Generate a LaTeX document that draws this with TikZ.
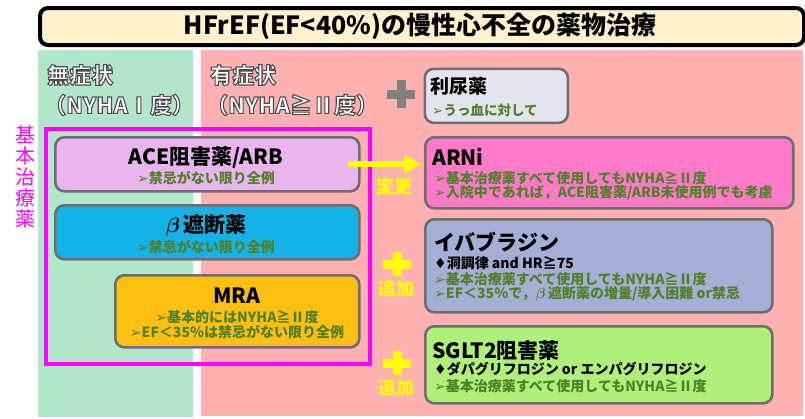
\documentclass[tikz,border=0pt]{standalone}
\usepackage{fontspec}
\usepackage{bm}
\setmainfont{Noto Sans CJK JP}
\newfontfamily\dvfont{DejaVu Sans}
\usetikzlibrary{arrows.meta}
\definecolor{titlefill}{RGB}{255,242,205}
\definecolor{panelgreen}{RGB}{178,230,203}
\definecolor{panelpink}{RGB}{255,176,176}
\definecolor{boxgray}{RGB}{110,110,110}
\definecolor{diufill}{RGB}{228,228,238}
\definecolor{acefill}{RGB}{234,180,238}
\definecolor{betafill}{RGB}{20,178,230}
\definecolor{mrafill}{RGB}{252,191,18}
\definecolor{arnifill}{RGB}{255,122,200}
\definecolor{ivafill}{RGB}{165,174,213}
\definecolor{sgltfill}{RGB}{174,240,122}
\definecolor{subgreen}{RGB}{80,128,40}
\definecolor{plusgray}{RGB}{128,128,128}
\definecolor{yel}{RGB}{255,255,0}
\definecolor{magentaline}{RGB}{255,0,255}
\newcommand\fbig{\fontsize{21}{24}\selectfont\bfseries}
\newcommand\fsubtxt{\fontsize{14}{16}\selectfont\bfseries}
\newcommand\arrowmark{{\dvfont ➢}}
\newcommand\diamondmark{{\dvfont ♦}}
\newcommand\outl[1]{\textcolor{white}{\special{pdf:literal direct 0.3 G 1.1 w 2 Tr}#1\special{pdf:literal direct 0 Tr}}}
\tikzset{
  x=1pt, y=-1pt,
  drugbox/.style={draw=boxgray, line width=2.6pt, rounded corners=9pt, anchor=north west, inner sep=0pt},
  bigtxt/.style={font=\fbig, text=black, inner sep=0pt},
  subtxt/.style={font=\fsubtxt, text=subgreen, inner sep=0pt},
  blacksub/.style={font=\fsubtxt, text=black, inner sep=0pt},
  headtxt/.style={font=\fontsize{22}{24}\selectfont\bfseries, inner sep=0pt, anchor=west},
  yeltxt/.style={font=\fontsize{18}{20}\selectfont\bfseries, text=yel, inner sep=0pt},
  plusline/.style={line width=9pt},
}
\begin{document}
\begin{tikzpicture}
\useasboundingbox (0,0) rectangle (805,418);
\fill[white] (0,0) rectangle (805,418);
% panels
\fill[panelgreen] (38,50) rectangle (193,417);
\fill[panelpink] (201,50) rectangle (803,416);
% title
\node[draw=black, line width=4pt, rounded corners=8pt, fill=titlefill, anchor=north west,
      minimum width=764pt, minimum height=37pt, inner sep=0pt] (titlebox) at (38,6) {};
\node[font=\fontsize{25}{28}\selectfont\bfseries, inner sep=0pt] (title) at (420,26) {HFrEF(EF<40\%)の慢性心不全の薬物治療};
% panel headings
\node[headtxt] (asym) at (47,75) {\outl{無症状}};
\node[headtxt] (asymn) at (44,105) {\outl{（NYHAⅠ度）}};
\node[headtxt] (sym) at (210,75) {\outl{有症状}};
\node[headtxt] (symn) at (206,105) {\outl{（NYHA≧Ⅱ度）}};
% gray plus
\coordinate (gplus) at (401,94);
\draw[plusgray, plusline] ([xshift=-14pt]gplus) -- ([xshift=14pt]gplus);
\draw[plusgray, plusline] ([yshift=-14pt]gplus) -- ([yshift=14pt]gplus);
% diuretic
\node[drugbox, fill=diufill, minimum width=143pt, minimum height=54pt] (diu) at (423.5,67.5) {};
\node[bigtxt, anchor=west, font=\fontsize{19}{22}\selectfont\bfseries] (diut) at (430,86) {利尿薬};
\node[subtxt, anchor=west, font=\fontsize{13.5}{15}\selectfont\bfseries] (dius) at (432,110) {\arrowmark うっ血に対して};
% basic therapy frame
\node[draw=magentaline, line width=4pt, anchor=north west, minimum width=324pt, minimum height=235pt, inner sep=0pt] (basic) at (44,127) {};
\node[font=\fontsize{20}{21}\selectfont, text=magentaline, align=center, inner sep=0pt] (basiclbl) at (25,177) {基\\本\\治\\療\\薬};
% ACE
\node[drugbox, fill=acefill, minimum width=304pt, minimum height=54pt] (ace) at (54,136) {};
\node[bigtxt] (acet) at (206,157) {ACE阻害薬/ARB};
\node[subtxt] (aces) at (206,178) {\arrowmark 禁忌がない限り全例};
% beta
\node[drugbox, fill=betafill, minimum width=304pt, minimum height=54pt] (beta) at (54,204) {};
\node[bigtxt] (betat) at (206,226) {$\bm\beta$\,遮断薬};
\node[subtxt] (betas) at (206,247) {\arrowmark 禁忌がない限り全例};
% MRA
\node[drugbox, fill=mrafill, minimum width=244pt, minimum height=72pt] (mra) at (114,274) {};
\node[bigtxt] (mrat) at (237,296) {MRA};
\node[subtxt] (mras1) at (237,317) {\arrowmark 基本的にはNYHA≧Ⅱ度};
\node[subtxt] (mras2) at (237,332) {\arrowmark EF＜35％は禁忌がない限り全例};
% ARNi
\node[drugbox, fill=arnifill, minimum width=368pt, minimum height=71pt] (arni) at (424,136) {};
\node[bigtxt, anchor=west] (arnit) at (432,157) {ARNi};
\node[subtxt, anchor=west] (arnis1) at (434,178) {\arrowmark 基本治療薬すべて使用してもNYHA≧Ⅱ度};
\node[subtxt, anchor=west] (arnis2) at (434,193) {\arrowmark 入院中であれば，ACE阻害薬/ARB未使用例でも考慮};
% Ivabradine
\node[drugbox, fill=ivafill, minimum width=347pt, minimum height=93pt] (iva) at (424,218) {};
\node[bigtxt, anchor=west] (ivat) at (434,242) {イバブラジン};
\node[blacksub, anchor=west] (ivad) at (434,263) {\diamondmark 洞調律 and HR≧75};
\node[subtxt, anchor=west] (ivas1) at (434,279) {\arrowmark 基本治療薬すべて使用してもNYHA≧Ⅱ度};
\node[subtxt, anchor=west] (ivas2) at (434,294) {\arrowmark EF＜35％で，$\bm\beta$\,遮断薬の増量/導入困難 or禁忌};
% SGLT2
\node[drugbox, fill=sgltfill, minimum width=347pt, minimum height=77pt] (sglt) at (424,325) {};
\node[bigtxt, anchor=west] (sgltt) at (432,351) {SGLT2阻害薬};
\node[blacksub, anchor=west] (sgltd) at (434,369) {\diamondmark ダパグリフロジン or エンパグリフロジン};
\node[subtxt, anchor=west] (sglts) at (434,386) {\arrowmark 基本治療薬すべて使用してもNYHA≧Ⅱ度};
% change arrow
\draw[yel, line width=6pt, -{Triangle[length=17pt,width=18pt]}, shorten >=3pt]
  ([xshift=-13pt]ace.east) -- (ace.east -| arni.west);
\node[yeltxt] (chg) at (394,187) {変更};
% yellow plus signs
\coordinate (yp1) at (397,264);
\draw[yel, plusline] ([xshift=-14pt]yp1) -- ([xshift=14pt]yp1);
\draw[yel, plusline] ([yshift=-12pt]yp1) -- ([yshift=12pt]yp1);
\node[yeltxt] (add1) at (396,289) {追加};
\coordinate (yp2) at (397,363);
\draw[yel, plusline] ([xshift=-14pt]yp2) -- ([xshift=14pt]yp2);
\draw[yel, plusline] ([yshift=-12pt]yp2) -- ([yshift=12pt]yp2);
\node[yeltxt] (add2) at (396,388) {追加};
\end{tikzpicture}
\end{document}
